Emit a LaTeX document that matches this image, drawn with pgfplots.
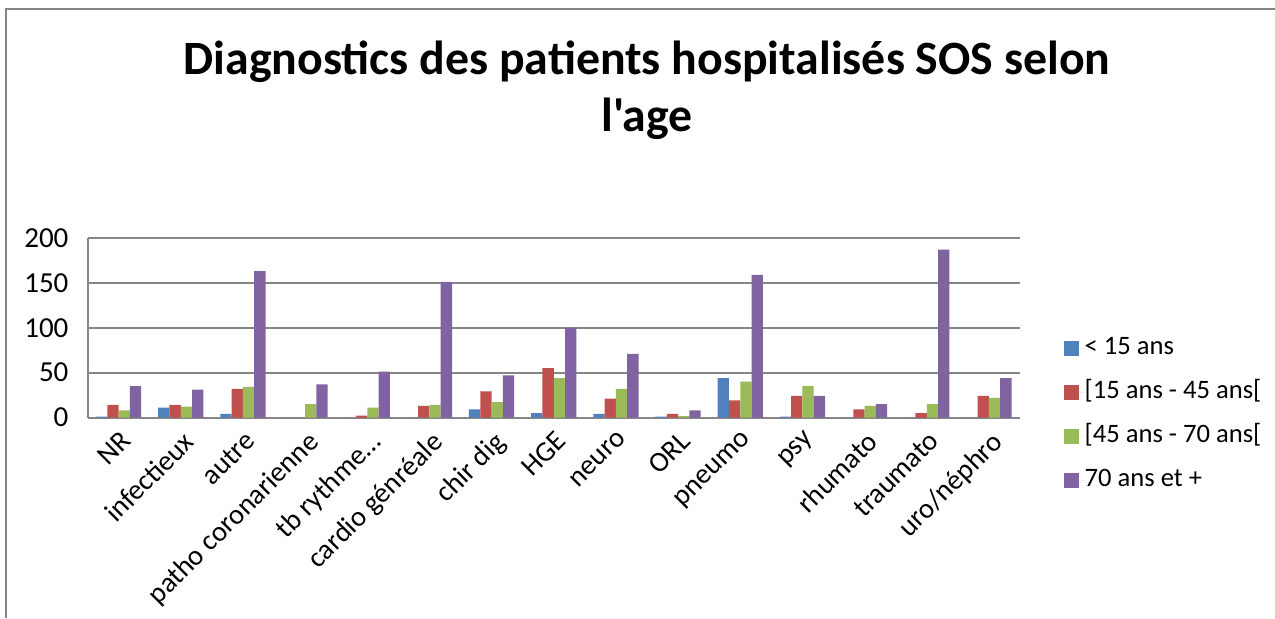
\documentclass[border=0pt]{standalone}
\usepackage{fontspec}
\setmainfont{Carlito}
\newfontfamily\carl{Carlito}
\usepackage{pgfplots}
\usepackage{pgfplotstable}
\pgfplotsset{compat=1.18}
\definecolor{cblue}{HTML}{4F81BD}
\definecolor{cred}{HTML}{C0504D}
\definecolor{cgreen}{HTML}{9BBB59}
\definecolor{cpurple}{HTML}{8064A2}
\definecolor{gridgray}{HTML}{868686}

% x  <15  [15-45[  [45-70[  70+
\pgfplotstableread{
x a b c d
0 1 14 8 35
1 11 14 12 31
2 4 32 34 163
3 0 0 15 37
4 0 2 11 51
5 0 13 14 151
6 9 29 17 47
7 5 55 44 100
8 4 21 32 71
9 1 4 1.5 8
10 44 19 40 159
11 1 24 35 24
12 0 9 13 15
13 0 5 15 187
14 0 24 22 44
}\diag

\begin{document}
\begin{tikzpicture}
\path[use as bounding box] (0,0) rectangle (637.5pt,309pt);
\draw[gridgray, line width=1pt] (3pt,0) -- (3pt,304.5pt) -- (637.5pt,304.5pt);
\node[font=\fontsize{23.9}{28}\selectfont\bfseries, anchor=base] at (323.5pt,272pt) {Diagnostics des patients hospitalisés SOS selon};
\node[font=\fontsize{23.9}{28}\selectfont\carl\bfseries, anchor=base] at (323.5pt,243.5pt) {l'age};
\begin{axis}[
  at={(43.75pt,100.25pt)}, anchor=south west,
  scale only axis,
  width=466.25pt, height=89.75pt,
  ybar=0pt,
  bar width=5.65pt,
  xmin=-0.5, xmax=14.5,
  ymin=0, ymax=200,
  ytick={0,50,100,150,200},
  xtick=data,
  xticklabels={NR, infectieux, autre, patho coronarienne, tb rythme…, cardio génréale, chir dig, HGE, neuro, ORL, pneumo, psy, rhumato, traumato, uro/néphro},
  axis lines=left,
  axis line style={gridgray, line width=1pt, -},
  ymajorgrids,
  grid style={gridgray, line width=1pt},
  major tick length=0pt,
  tick style={draw=none},
  /pgf/number format/assume math mode=true,
  yticklabel style={font=\fontsize{14.5}{17}\selectfont, xshift=-6pt},
  xticklabel style={font=\fontsize{14.2}{17}\selectfont, xshift=0.5pt, yshift=-4.5pt, rotate=45, anchor=north east, inner sep=1pt},
  legend style={at={(1.04,0.014)}, anchor=west, draw=none, fill=none,
    font=\fontsize{13.3}{16}\selectfont, row sep=10pt,
    nodes={inner sep=0pt, text height=9pt, text depth=3pt, anchor=west},
    /tikz/every even column/.append style={column sep=0pt}},
  legend cell align=left,
  legend image code/.code={\fill[#1, draw=none] (0pt,-3.75pt) rectangle (7.5pt,3.75pt); \path[draw=none] (0pt,0pt) -- (10.5pt,0pt);},
  clip=false,
]
\addplot[fill=cblue, draw=none] table[x=x,y=a] {\diag};
\addlegendentry{< 15 ans}
\addplot[fill=cred, draw=none] table[x=x,y=b] {\diag};
\addlegendentry{{[}15 ans - 45 ans{[}}
\addplot[fill=cgreen, draw=none] table[x=x,y=c] {\diag};
\addlegendentry{{[}45 ans - 70 ans{[}}
\addplot[fill=cpurple, draw=none] table[x=x,y=d] {\diag};
\addlegendentry{70 ans et +}
\end{axis}
\end{tikzpicture}
\end{document}
